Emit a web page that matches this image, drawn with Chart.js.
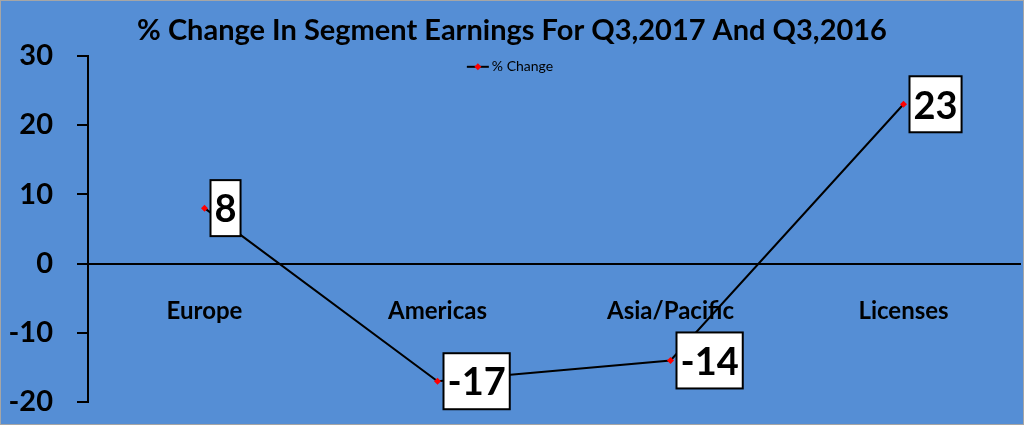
<!DOCTYPE html>
<html>
<head>
<meta charset="utf-8">
<script src="https://cdn.jsdelivr.net/npm/chart.js@4"></script>
<style>
  html, body { margin: 0; padding: 0; background: #558ED5; }
  #wrap { width: 1024px; height: 425px; position: relative; }
</style>
</head>
<body>
<div id="wrap"><canvas id="c" width="1024" height="425"></canvas></div>
<script>
const categories = ["Europe", "Americas", "Asia/Pacific", "Licenses"];
const pctChange = [8, -17, -14, 23];
const seriesName = "% Change";
const titleText = "% Change In Segment Earnings For Q3,2017 And Q3,2016";
const yMin = -20, yMax = 30, yStep = 10;

const FONT = "Lato, 'Open Sans', sans-serif";
const BG = "#558ED5";

const bgPlugin = {
  id: 'bg',
  beforeDraw(chart) {
    const ctx = chart.ctx;
    ctx.save();
    ctx.fillStyle = BG;
    ctx.fillRect(0, 0, chart.width, chart.height);
    ctx.strokeStyle = '#A6A6A6';
    ctx.lineWidth = 1;
    ctx.strokeRect(0.5, 0.5, chart.width - 1, chart.height - 1);
    ctx.restore();
  }
};

// legend drawn inside the plot area near its top (as in the reference)
const legendPlugin = {
  id: 'inLegend',
  afterDraw(chart) {
    const ctx = chart.ctx;
    const ca = chart.chartArea;
    const ds = chart.data.datasets[0];
    ctx.save();
    ctx.font = "14px " + FONT;
    const tw = ctx.measureText(ds.label).width;
    const mw = 22, gap = 3;
    const total = mw + gap + tw;
    const cx = (ca.left + ca.right) / 2 - 44;
    const x0 = cx - total / 2;
    const y = ca.top + 11;
    ctx.strokeStyle = ds.borderColor; ctx.lineWidth = 2;
    ctx.beginPath(); ctx.moveTo(x0, y); ctx.lineTo(x0 + mw, y); ctx.stroke();
    ctx.fillStyle = ds.pointBackgroundColor;
    const mx = x0 + mw / 2;
    ctx.beginPath(); ctx.moveTo(mx, y - 3.5); ctx.lineTo(mx + 3.5, y); ctx.lineTo(mx, y + 3.5); ctx.lineTo(mx - 3.5, y); ctx.closePath(); ctx.fill();
    ctx.fillStyle = '#000';
    ctx.textBaseline = 'middle';
    ctx.fillText(ds.label, x0 + mw + gap, y);
    ctx.restore();
  }
};

const labelPlugin = {
  id: 'boxLabels',
  afterDatasetsDraw(chart) {
    const ctx = chart.ctx;
    const meta = chart.getDatasetMeta(0);
    const data = chart.data.datasets[0].data;
    ctx.save();
    ctx.font = "bold 38px " + FONT;
    ctx.textBaseline = 'middle';
    ctx.textAlign = 'left';
    meta.data.forEach((pt, i) => {
      const txt = String(data[i]);
      const w = ctx.measureText(txt).width + 8;
      const h = 56;
      const x = pt.x + 6;
      const y = pt.y - h / 2;
      ctx.fillStyle = '#FFFFFF';
      ctx.fillRect(x, y, w, h);
      ctx.strokeStyle = '#000';
      ctx.lineWidth = 2;
      ctx.strokeRect(x, y, w, h);
      ctx.fillStyle = '#000';
      ctx.fillText(txt, x + 4, pt.y + 2);
    });
    ctx.restore();
  }
};

new Chart(document.getElementById('c'), {
  type: 'line',
  data: {
    labels: categories,
    datasets: [{
      label: seriesName,
      data: pctChange,
      borderColor: '#000',
      borderWidth: 2,
      pointStyle: 'rectRot',
      pointRadius: 3.5,
      pointBackgroundColor: '#FF0000',
      pointBorderColor: '#FF0000',
      pointBorderWidth: 0,
      tension: 0,
      fill: false
    }]
  },
  options: {
    responsive: false,
    animation: false,
    layout: { padding: { left: 0, right: 0, top: 6, bottom: 23 } },
    plugins: {
      title: {
        display: true,
        text: titleText,
        color: '#000',
        font: { family: FONT, size: 29, weight: 'bold' },
        padding: { top: 7, bottom: 8 }
      },
      legend: { display: false },
      tooltip: { enabled: false }
    },
    scales: {
      x: {
        position: { y: 0 },
        offset: true,
        afterFit(scale) { scale.height = 0; },
        grid: { display: false, drawTicks: false },
        border: { display: true, color: '#000', width: 2 },
        ticks: {
          color: '#000',
          font: { family: FONT, size: 24, weight: 'bold' },
          padding: 33
        }
      },
      y: {
        min: yMin, max: yMax,
        afterFit(scale) {
          scale.width = 88;
          scale.paddingTop = 15;
          scale.paddingBottom = 15;
        },
        grid: { drawOnChartArea: false, drawTicks: true, tickLength: 11, color: '#000', lineWidth: 2 },
        border: { display: true, color: '#000', width: 2 },
        ticks: {
          stepSize: yStep,
          color: '#000',
          font: { family: FONT, size: 29, weight: 'bold' },
          padding: 24
        }
      }
    }
  },
  plugins: [bgPlugin, labelPlugin, legendPlugin]
});
</script>
</body>
</html>
